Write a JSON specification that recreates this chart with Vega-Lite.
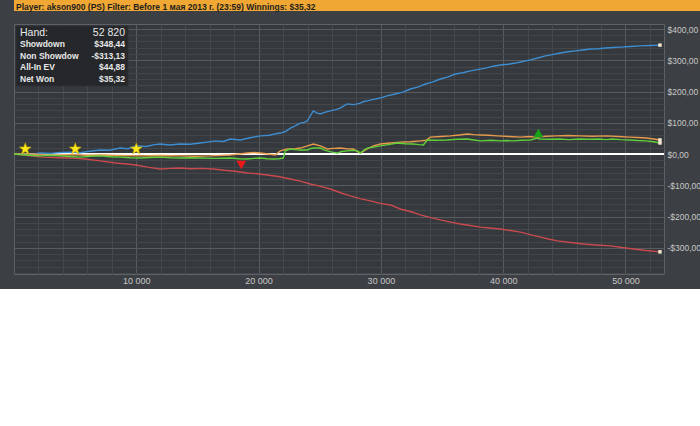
{
  "$schema": "https://vega.github.io/schema/vega-lite/v6.json",
  "background": "#3c3f43",
  "padding": 0,
  "config": {
    "font": "Liberation Sans",
    "view": {"stroke": null},
    "axis": {"labelOverlap": false, "ticks": false, "tickSize": 0, "domain": false, "title": null, "labelFlush": false, "labelColor": "#c8c8c8", "labelFont": "Liberation Sans"}
  },
  "columns": 1,
  "align": "none",
  "spacing": 12,
  "concat": [
    {
      "width": 700,
      "height": 11,
      "view": {"fill": "#f0a733", "stroke": null},
      "title": {
        "text": "Player: akson900 (PS) Filter: Before 1 мая 2013 г. (23:59) Winnings: $35,32",
        "anchor": "start",
        "orient": "top",
        "frame": "group",
        "offset": -11,
        "baseline": "top",
        "dx": 2,
        "fontSize": 8.5,
        "fontWeight": "bold",
        "font": "Liberation Sans",
        "color": "#1e1e1e"
      },
      "data": {"values": [{}]},
      "mark": {"type": "rect", "color": "#f0a733"},
      "encoding": {}
    },
    {
      "width": 650,
      "height": 250,
      "view": {"fill": "#35383c", "stroke": "#5f6266"},
      "layer": [
        {
          "layer": [
            {
              "data": {"values": [{}]},
              "mark": {"type": "rule", "color": "#ffffff", "strokeWidth": 2},
              "encoding": {"y": {"datum": 0, "type": "quantitative"}}
            },
            {
              "data": {
                "values": [
                  {"series":"Showdown","hand":0,"won":0},{"series":"Showdown","hand":800,"won":1},{"series":"Showdown","hand":1500,"won":-1},{"series":"Showdown","hand":2140,"won":3},{"series":"Showdown","hand":3000,"won":2},{"series":"Showdown","hand":3800,"won":5},{"series":"Showdown","hand":4600,"won":6},{"series":"Showdown","hand":5400,"won":4},{"series":"Showdown","hand":6200,"won":9},{"series":"Showdown","hand":7050,"won":13},{"series":"Showdown","hand":7800,"won":12},{"series":"Showdown","hand":8690,"won":19},{"series":"Showdown","hand":9300,"won":17},{"series":"Showdown","hand":10000,"won":26},{"series":"Showdown","hand":10800,"won":24},{"series":"Showdown","hand":11500,"won":30},{"series":"Showdown","hand":11960,"won":32},{"series":"Showdown","hand":12700,"won":29},{"series":"Showdown","hand":13600,"won":32},{"series":"Showdown","hand":14400,"won":31},{"series":"Showdown","hand":15230,"won":35},{"series":"Showdown","hand":15800,"won":38},{"series":"Showdown","hand":16460,"won":42},{"series":"Showdown","hand":17100,"won":40},{"series":"Showdown","hand":17690,"won":48},{"series":"Showdown","hand":18500,"won":45},{"series":"Showdown","hand":19300,"won":52},{"series":"Showdown","hand":20140,"won":58},{"series":"Showdown","hand":20900,"won":60},{"series":"Showdown","hand":21400,"won":65},{"series":"Showdown","hand":21780,"won":67},{"series":"Showdown","hand":22200,"won":72},{"series":"Showdown","hand":22600,"won":83},{"series":"Showdown","hand":23000,"won":90},{"series":"Showdown","hand":23410,"won":99},{"series":"Showdown","hand":23700,"won":101},{"series":"Showdown","hand":23980,"won":106},{"series":"Showdown","hand":24200,"won":120},{"series":"Showdown","hand":24470,"won":138},{"series":"Showdown","hand":24800,"won":131},{"series":"Showdown","hand":25050,"won":128},{"series":"Showdown","hand":25400,"won":133},{"series":"Showdown","hand":25860,"won":138},{"series":"Showdown","hand":26300,"won":142},{"series":"Showdown","hand":26680,"won":147},{"series":"Showdown","hand":27000,"won":155},{"series":"Showdown","hand":27250,"won":160},{"series":"Showdown","hand":27800,"won":158},{"series":"Showdown","hand":28320,"won":163},{"series":"Showdown","hand":28600,"won":168},{"series":"Showdown","hand":28890,"won":170},{"series":"Showdown","hand":29400,"won":175},{"series":"Showdown","hand":29950,"won":179},{"series":"Showdown","hand":30500,"won":186},{"series":"Showdown","hand":31180,"won":192},{"series":"Showdown","hand":31800,"won":198},{"series":"Showdown","hand":32410,"won":208},{"series":"Showdown","hand":33000,"won":214},{"series":"Showdown","hand":33640,"won":224},{"series":"Showdown","hand":34200,"won":230},{"series":"Showdown","hand":34860,"won":240},{"series":"Showdown","hand":35500,"won":247},{"series":"Showdown","hand":36090,"won":256},{"series":"Showdown","hand":36700,"won":260},{"series":"Showdown","hand":37320,"won":266},{"series":"Showdown","hand":37900,"won":270},{"series":"Showdown","hand":38550,"won":275},{"series":"Showdown","hand":39200,"won":281},{"series":"Showdown","hand":39770,"won":285},{"series":"Showdown","hand":40400,"won":287},{"series":"Showdown","hand":41000,"won":291},{"series":"Showdown","hand":41600,"won":296},{"series":"Showdown","hand":42230,"won":301},{"series":"Showdown","hand":42900,"won":308},{"series":"Showdown","hand":43450,"won":314},{"series":"Showdown","hand":44000,"won":318},{"series":"Showdown","hand":44680,"won":323},{"series":"Showdown","hand":45300,"won":327},{"series":"Showdown","hand":45910,"won":330},{"series":"Showdown","hand":46500,"won":333},{"series":"Showdown","hand":47140,"won":336},{"series":"Showdown","hand":47800,"won":337},{"series":"Showdown","hand":48360,"won":339},{"series":"Showdown","hand":49000,"won":341},{"series":"Showdown","hand":49590,"won":342},{"series":"Showdown","hand":50400,"won":344},{"series":"Showdown","hand":51220,"won":346},{"series":"Showdown","hand":52000,"won":347},{"series":"Showdown","hand":52820,"won":348.44},
                  {"series":"Non Showdown","hand":0,"won":0},{"series":"Non Showdown","hand":1330,"won":-6},{"series":"Non Showdown","hand":2390,"won":-10},{"series":"Non Showdown","hand":3300,"won":-11},{"series":"Non Showdown","hand":4350,"won":-13},{"series":"Non Showdown","hand":5100,"won":-14},{"series":"Non Showdown","hand":5820,"won":-16},{"series":"Non Showdown","hand":7050,"won":-22},{"series":"Non Showdown","hand":8280,"won":-29},{"series":"Non Showdown","hand":9260,"won":-32},{"series":"Non Showdown","hand":10100,"won":-36},{"series":"Non Showdown","hand":10900,"won":-42},{"series":"Non Showdown","hand":11960,"won":-48},{"series":"Non Showdown","hand":12800,"won":-46},{"series":"Non Showdown","hand":13600,"won":-45},{"series":"Non Showdown","hand":14500,"won":-47},{"series":"Non Showdown","hand":15300,"won":-46},{"series":"Non Showdown","hand":16300,"won":-48},{"series":"Non Showdown","hand":17200,"won":-52},{"series":"Non Showdown","hand":18100,"won":-55},{"series":"Non Showdown","hand":19080,"won":-61},{"series":"Non Showdown","hand":19900,"won":-63},{"series":"Non Showdown","hand":20710,"won":-67},{"series":"Non Showdown","hand":21600,"won":-72},{"series":"Non Showdown","hand":22600,"won":-80},{"series":"Non Showdown","hand":23400,"won":-87},{"series":"Non Showdown","hand":24230,"won":-96},{"series":"Non Showdown","hand":25000,"won":-103},{"series":"Non Showdown","hand":25860,"won":-112},{"series":"Non Showdown","hand":26700,"won":-124},{"series":"Non Showdown","hand":27500,"won":-134},{"series":"Non Showdown","hand":28300,"won":-143},{"series":"Non Showdown","hand":29140,"won":-150},{"series":"Non Showdown","hand":29950,"won":-158},{"series":"Non Showdown","hand":30770,"won":-163},{"series":"Non Showdown","hand":31590,"won":-176},{"series":"Non Showdown","hand":32400,"won":-184},{"series":"Non Showdown","hand":33230,"won":-195},{"series":"Non Showdown","hand":34000,"won":-203},{"series":"Non Showdown","hand":34860,"won":-211},{"series":"Non Showdown","hand":35700,"won":-218},{"series":"Non Showdown","hand":36500,"won":-224},{"series":"Non Showdown","hand":37300,"won":-229},{"series":"Non Showdown","hand":38140,"won":-234},{"series":"Non Showdown","hand":38900,"won":-237},{"series":"Non Showdown","hand":39770,"won":-240},{"series":"Non Showdown","hand":40600,"won":-245},{"series":"Non Showdown","hand":41410,"won":-250},{"series":"Non Showdown","hand":42200,"won":-258},{"series":"Non Showdown","hand":43050,"won":-266},{"series":"Non Showdown","hand":43700,"won":-272},{"series":"Non Showdown","hand":44440,"won":-278},{"series":"Non Showdown","hand":45500,"won":-283},{"series":"Non Showdown","hand":46570,"won":-288},{"series":"Non Showdown","hand":47600,"won":-291},{"series":"Non Showdown","hand":48770,"won":-294},{"series":"Non Showdown","hand":49700,"won":-299},{"series":"Non Showdown","hand":50660,"won":-304},{"series":"Non Showdown","hand":51700,"won":-309},{"series":"Non Showdown","hand":52820,"won":-313.13},
                  {"series":"All-In EV","hand":0,"won":0},{"series":"All-In EV","hand":1325,"won":0},{"series":"All-In EV","hand":2500,"won":-2},{"series":"All-In EV","hand":3779,"won":-3},{"series":"All-In EV","hand":5000,"won":-2},{"series":"All-In EV","hand":6000,"won":-4},{"series":"All-In EV","hand":7051,"won":-3},{"series":"All-In EV","hand":8500,"won":-5},{"series":"All-In EV","hand":10323,"won":-6},{"series":"All-In EV","hand":12000,"won":-5},{"series":"All-In EV","hand":13595,"won":-6},{"series":"All-In EV","hand":14800,"won":-7},{"series":"All-In EV","hand":16049,"won":-6},{"series":"All-In EV","hand":17685,"won":-3},{"series":"All-In EV","hand":18400,"won":0},{"series":"All-In EV","hand":19076,"won":3},{"series":"All-In EV","hand":19600,"won":5},{"series":"All-In EV","hand":20139,"won":3},{"series":"All-In EV","hand":20800,"won":0},{"series":"All-In EV","hand":21366,"won":-3},{"series":"All-In EV","hand":21775,"won":10},{"series":"All-In EV","hand":22348,"won":16},{"series":"All-In EV","hand":23000,"won":17},{"series":"All-In EV","hand":23411,"won":19},{"series":"All-In EV","hand":24000,"won":26},{"series":"All-In EV","hand":24474,"won":32},{"series":"All-In EV","hand":25047,"won":26},{"series":"All-In EV","hand":25619,"won":16},{"series":"All-In EV","hand":26100,"won":18},{"series":"All-In EV","hand":26683,"won":19},{"series":"All-In EV","hand":27200,"won":17},{"series":"All-In EV","hand":27747,"won":16},{"series":"All-In EV","hand":28319,"won":3},{"series":"All-In EV","hand":28800,"won":15},{"series":"All-In EV","hand":29383,"won":26},{"series":"All-In EV","hand":29955,"won":32},{"series":"All-In EV","hand":30800,"won":35},{"series":"All-In EV","hand":31591,"won":38},{"series":"All-In EV","hand":32400,"won":39},{"series":"All-In EV","hand":33227,"won":42},{"series":"All-In EV","hand":33700,"won":44},{"series":"All-In EV","hand":34045,"won":54},{"series":"All-In EV","hand":34900,"won":56},{"series":"All-In EV","hand":35681,"won":58},{"series":"All-In EV","hand":36400,"won":61},{"series":"All-In EV","hand":37072,"won":64},{"series":"All-In EV","hand":37600,"won":62},{"series":"All-In EV","hand":38135,"won":61},{"series":"All-In EV","hand":38800,"won":60},{"series":"All-In EV","hand":39526,"won":58},{"series":"All-In EV","hand":40500,"won":56},{"series":"All-In EV","hand":41407,"won":54},{"series":"All-In EV","hand":42100,"won":56},{"series":"All-In EV","hand":42798,"won":54},{"series":"All-In EV","hand":43500,"won":57},{"series":"All-In EV","hand":44352,"won":58},{"series":"All-In EV","hand":45300,"won":59},{"series":"All-In EV","hand":46233,"won":58},{"series":"All-In EV","hand":47300,"won":57},{"series":"All-In EV","hand":48442,"won":58},{"series":"All-In EV","hand":49400,"won":56},{"series":"All-In EV","hand":50323,"won":54},{"series":"All-In EV","hand":51000,"won":53},{"series":"All-In EV","hand":51714,"won":51},{"series":"All-In EV","hand":52300,"won":48},{"series":"All-In EV","hand":52820,"won":44.88},
                  {"series":"Net Won","hand":0,"won":0},{"series":"Net Won","hand":916,"won":-3},{"series":"Net Won","hand":1600,"won":-5},{"series":"Net Won","hand":2143,"won":-6},{"series":"Net Won","hand":3000,"won":-4},{"series":"Net Won","hand":3779,"won":-6},{"series":"Net Won","hand":4600,"won":-8},{"series":"Net Won","hand":5415,"won":-10},{"series":"Net Won","hand":6200,"won":-7},{"series":"Net Won","hand":7051,"won":-6},{"series":"Net Won","hand":7900,"won":-9},{"series":"Net Won","hand":8687,"won":-10},{"series":"Net Won","hand":9500,"won":-12},{"series":"Net Won","hand":10323,"won":-13},{"series":"Net Won","hand":11100,"won":-11},{"series":"Net Won","hand":11959,"won":-10},{"series":"Net Won","hand":12800,"won":-12},{"series":"Net Won","hand":13595,"won":-13},{"series":"Net Won","hand":14400,"won":-12},{"series":"Net Won","hand":15231,"won":-13},{"series":"Net Won","hand":16400,"won":-14},{"series":"Net Won","hand":17685,"won":-13},{"series":"Net Won","hand":18400,"won":-15},{"series":"Net Won","hand":19076,"won":-16},{"series":"Net Won","hand":19600,"won":-14},{"series":"Net Won","hand":20139,"won":-13},{"series":"Net Won","hand":20700,"won":-15},{"series":"Net Won","hand":21202,"won":-16},{"series":"Net Won","hand":21700,"won":-15},{"series":"Net Won","hand":22020,"won":-13},{"series":"Net Won","hand":22184,"won":10},{"series":"Net Won","hand":22593,"won":16},{"series":"Net Won","hand":23000,"won":14},{"series":"Net Won","hand":23411,"won":13},{"series":"Net Won","hand":23984,"won":13},{"series":"Net Won","hand":24200,"won":17},{"series":"Net Won","hand":24474,"won":19},{"series":"Net Won","hand":25047,"won":19},{"series":"Net Won","hand":25300,"won":14},{"series":"Net Won","hand":25619,"won":10},{"series":"Net Won","hand":26000,"won":6},{"series":"Net Won","hand":26438,"won":3},{"series":"Net Won","hand":26800,"won":8},{"series":"Net Won","hand":27256,"won":10},{"series":"Net Won","hand":27700,"won":12},{"series":"Net Won","hand":28074,"won":10},{"series":"Net Won","hand":28319,"won":3},{"series":"Net Won","hand":28600,"won":12},{"series":"Net Won","hand":28892,"won":19},{"series":"Net Won","hand":29400,"won":22},{"series":"Net Won","hand":29955,"won":26},{"series":"Net Won","hand":30600,"won":30},{"series":"Net Won","hand":31346,"won":35},{"series":"Net Won","hand":32000,"won":33},{"series":"Net Won","hand":32655,"won":32},{"series":"Net Won","hand":33100,"won":30},{"series":"Net Won","hand":33473,"won":29},{"series":"Net Won","hand":33800,"won":45},{"series":"Net Won","hand":34500,"won":44},{"series":"Net Won","hand":35436,"won":45},{"series":"Net Won","hand":36200,"won":47},{"series":"Net Won","hand":37072,"won":48},{"series":"Net Won","hand":37600,"won":45},{"series":"Net Won","hand":38135,"won":42},{"series":"Net Won","hand":39000,"won":44},{"series":"Net Won","hand":39771,"won":42},{"series":"Net Won","hand":40300,"won":43},{"series":"Net Won","hand":40834,"won":42},{"series":"Net Won","hand":41500,"won":44},{"series":"Net Won","hand":42225,"won":45},{"series":"Net Won","hand":42798,"won":51},{"series":"Net Won","hand":42961,"won":48},{"series":"Net Won","hand":43700,"won":47},{"series":"Net Won","hand":44597,"won":48},{"series":"Net Won","hand":45400,"won":46},{"series":"Net Won","hand":46233,"won":48},{"series":"Net Won","hand":47000,"won":47},{"series":"Net Won","hand":47869,"won":48},{"series":"Net Won","hand":48400,"won":46},{"series":"Net Won","hand":48933,"won":48},{"series":"Net Won","hand":49600,"won":46},{"series":"Net Won","hand":50323,"won":45},{"series":"Net Won","hand":51000,"won":43},{"series":"Net Won","hand":51714,"won":42},{"series":"Net Won","hand":52300,"won":39},{"series":"Net Won","hand":52820,"won":35.32}
                ]
              },
              "layer": [
                {
                  "mark": {"type": "line", "strokeWidth": 1.4},
                  "encoding": {
                    "x": {
                      "field": "hand", "type": "quantitative",
                      "scale": {"domain": [0, 53150], "nice": false, "zero": false},
                      "axis": {
                        "orient": "bottom",
                        "values": [2000,4000,6000,8000,10000,12000,14000,16000,18000,20000,22000,24000,26000,28000,30000,32000,34000,36000,38000,40000,42000,44000,46000,48000,50000,52000],
                        "tickCount": 100,
                        "labelExpr": "datum.value % 10000 === 0 ? replace(format(datum.value, ','), ',', ' ') : ''",
                        "grid": true,
                        "gridColor": {"condition": {"test": "datum.value % 10000 === 0", "value": "#585b60"}, "value": "#45484c"},
                        "ticks": false,
                        "tickSize": 0,
                        "domain": false,
                        "labelFontSize": 9,
                        "labelPadding": 2,
                        "labelOverlap": false,
                        "labelFlush": false,
                        "minExtent": 14,
                        "title": null
                      }
                    },
                    "y": {
                      "field": "won", "type": "quantitative",
                      "scale": {"domain": [-384, 416], "nice": false, "zero": false},
                      "axis": {
                        "orient": "right",
                        "values": [-380,-360,-340,-320,-300,-280,-260,-240,-220,-200,-180,-160,-140,-120,-100,-80,-60,-40,-20,0,20,40,60,80,100,120,140,160,180,200,220,240,260,280,300,320,340,360,380,400],
                        "tickCount": 100,
                        "labelExpr": "datum.value % 100 === 0 ? (datum.value < 0 ? '-$' : '$') + abs(datum.value) + ',00' : ''",
                        "grid": true,
                        "gridColor": {"condition": {"test": "datum.value % 100 === 0", "value": "#585b60"}, "value": "#43464a"},
                        "ticks": false,
                        "tickSize": 0,
                        "domain": false,
                        "labelFontSize": 8.5,
                        "labelPadding": 3,
                        "labelOverlap": false,
                        "labelFlush": false,
                        "title": null
                      }
                    },
                    "color": {
                      "field": "series", "type": "nominal",
                      "scale": {"domain": ["Showdown", "Non Showdown", "All-In EV", "Net Won"], "range": ["#3d8dd0", "#c84a4e", "#e59a4c", "#5fcf3a"]},
                      "legend": null
                    }
                  }
                },
                {
                  "transform": [{"filter": "datum.hand === 52820"}],
                  "mark": {"type": "point", "shape": "square", "filled": true, "size": 12, "color": "#f3ead0", "opacity": 1},
                  "encoding": {
                    "x": {"field": "hand", "type": "quantitative"},
                    "y": {"field": "won", "type": "quantitative"}
                  }
                }
              ]
            },
            {
              "data": {"values": [{"marker": "star", "hand": 920, "won": 16}, {"marker": "star", "hand": 5010, "won": 16}, {"marker": "star", "hand": 10000, "won": 16}, {"marker": "low", "hand": 18585, "won": -35}, {"marker": "high", "hand": 42880, "won": 67}]},
              "layer": [
                {
                  "transform": [{"filter": "datum.marker === 'star'"}],
                  "mark": {"type": "point", "filled": true, "opacity": 1, "shape": "M0,-1L0.235,-0.324L0.951,-0.309L0.38,0.124L0.588,0.809L0,0.4L-0.588,0.809L-0.38,0.124L-0.951,-0.309L-0.235,-0.324Z", "size": 150, "color": "#ffe81c", "stroke": "#c9a800", "strokeWidth": 0.6},
                  "encoding": {
                    "x": {"field": "hand", "type": "quantitative"},
                    "y": {"field": "won", "type": "quantitative"}
                  }
                },
                {
                  "transform": [{"filter": "datum.marker === 'low'"}],
                  "mark": {"type": "point", "filled": true, "opacity": 1, "shape": "triangle-down", "size": 95, "color": "#e81a1a"},
                  "encoding": {
                    "x": {"field": "hand", "type": "quantitative"},
                    "y": {"field": "won", "type": "quantitative"}
                  }
                },
                {
                  "transform": [{"filter": "datum.marker === 'high'"}],
                  "mark": {"type": "point", "filled": true, "opacity": 1, "shape": "triangle-up", "size": 95, "color": "#17a317"},
                  "encoding": {
                    "x": {"field": "hand", "type": "quantitative"},
                    "y": {"field": "won", "type": "quantitative"}
                  }
                }
              ]
            }
          ]
        },
        {
          "data": {"values": [
            {"stat": "Hand:", "amount": "52 820"},
            {"stat": "Showdown", "amount": "$348,44"},
            {"stat": "Non Showdow", "amount": "-$313,13"},
            {"stat": "All-In EV", "amount": "$44,88"},
            {"stat": "Net Won", "amount": "$35,32"}
          ]},
          "transform": [{"window": [{"op": "row_number", "as": "row"}]}],
          "layer": [
            {
              "transform": [{"filter": "datum.row === 1"}],
              "mark": {"type": "rect", "fill": "#25272a", "stroke": "#2f3135", "strokeWidth": 1},
              "encoding": {
                "x": {"datum": 164, "type": "quantitative"},
                "x2": {"datum": 9322},
                "y": {
                  "datum": 0.39, "type": "quantitative",
                  "scale": {"domain": [22.14, 0.21], "nice": false, "zero": false},
                  "axis": {"orient": "left", "labels": false, "ticks": false, "domain": false, "grid": false, "title": null, "minExtent": 13, "maxExtent": 13}
                },
                "y2": {"datum": 5.65}
              }
            },
            {
              "transform": [{"filter": "datum.row === 1"}],
              "mark": {"type": "text", "align": "left", "baseline": "middle", "font": "Liberation Sans", "fontSize": 10.5, "color": "#e8e8e8"},
              "encoding": {
                "x": {"datum": 490, "type": "quantitative"},
                "y": {"field": "row", "type": "quantitative"},
                "text": {"field": "stat"}
              }
            },
            {
              "transform": [{"filter": "datum.row > 1"}],
              "mark": {"type": "text", "align": "left", "baseline": "middle", "font": "Liberation Sans", "fontSize": 8.5, "fontWeight": "bold", "color": "#e8e8e8"},
              "encoding": {
                "x": {"datum": 490, "type": "quantitative"},
                "y": {"field": "row", "type": "quantitative"},
                "text": {"field": "stat"}
              }
            },
            {
              "transform": [{"filter": "datum.row === 1"}],
              "mark": {"type": "text", "align": "right", "baseline": "middle", "font": "Liberation Sans", "fontSize": 10.5, "color": "#e8e8e8"},
              "encoding": {
                "x": {"datum": 9076, "type": "quantitative"},
                "y": {"field": "row", "type": "quantitative"},
                "text": {"field": "amount"}
              }
            },
            {
              "transform": [{"filter": "datum.row > 1"}],
              "mark": {"type": "text", "align": "right", "baseline": "middle", "font": "Liberation Sans", "fontSize": 8.5, "fontWeight": "bold", "color": "#e8e8e8"},
              "encoding": {
                "x": {"datum": 9076, "type": "quantitative"},
                "y": {"field": "row", "type": "quantitative"},
                "text": {"field": "amount"}
              }
            }
          ]
        }
      ],
      "resolve": {"scale": {"y": "independent"}}
    }
  ]
}
